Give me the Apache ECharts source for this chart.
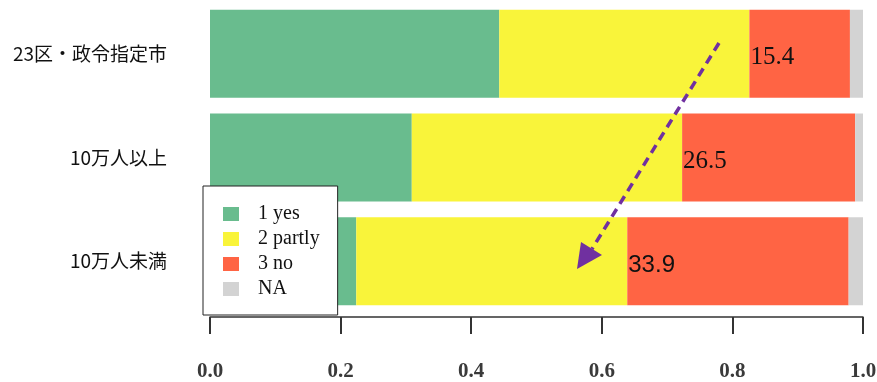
<!DOCTYPE html>
<html>
<head>
<meta charset="utf-8">
<script src="https://cdn.jsdelivr.net/npm/echarts@6/dist/echarts.min.js"></script>
<style>html,body{margin:0;padding:0;background:#fff;}#c{width:877px;height:382px;}</style>
</head>
<body>
<div id="c"></div>
<script>
var categories = ['23区・政令指定市', '10万人以上', '10万人未満'];
var seriesNames = ['1 yes', '2 partly', '3 no', 'NA'];
var yesVals = [0.443, 0.309, 0.224];
var partlyVals = [0.383, 0.414, 0.415];
var noVals = [0.154, 0.265, 0.339];
var naVals = [0.020, 0.012, 0.022];
var noLabels = ['15.4', '26.5', '33.9'];
var xTicks = [0.0, 0.2, 0.4, 0.6, 0.8, 1.0];

var colors = ['#69BC8E', '#F9F43A', '#FF6444', '#D3D3D3'];
var labelFonts = ['Liberation Serif', 'Liberation Serif', 'Liberation Sans'];

var chart = echarts.init(document.getElementById('c'), null, {renderer: 'canvas'});

function mk(name, vals, color, withLabel) {
  return {
    name: name,
    type: 'bar',
    stack: 'total',
    barWidth: 88,
    itemStyle: {color: color},
    emphasis: {disabled: true},
    label: withLabel ? {
      show: true,
      position: 'insideLeft',
      distance: 1,
      offset: [0, 4],
      fontSize: 25,
      color: '#111',
      formatter: function (p) { return noLabels[p.dataIndex]; }
    } : {show: false},
    data: vals.map(function (v, i) {
      return withLabel ? {value: v, label: {fontFamily: labelFonts[i], fontSize: i === 2 ? 24 : 25}} : v;
    })
  };
}

var option = {
  animation: false,
  backgroundColor: '#fff',
  color: colors,
  grid: {left: 210, right: 14, top: 2, bottom: 69, containLabel: false, outerBoundsMode: 'none'},
  legend: {
    data: seriesNames,
    orient: 'vertical',
    left: 203,
    top: 186,
    padding: [18, 18, 16, 20],
    itemWidth: 16,
    itemHeight: 14,
    itemGap: 5,
    icon: 'rect',
    backgroundColor: '#fff',
    borderColor: '#222',
    borderWidth: 1,
    textStyle: {
      fontFamily: 'Liberation Serif',
      fontSize: 20,
      color: '#111',
      padding: [0, 0, 0, 14]
    },
    z: 10
  },
  xAxis: {
    type: 'value',
    min: 0,
    max: 1,
    interval: 0.2,
    offset: 4,
    splitLine: {show: false},
    axisLine: {show: true, lineStyle: {color: '#333', width: 1.5}},
    axisTick: {show: true, length: 17, lineStyle: {color: '#333', width: 2}},
    axisLabel: {
      margin: 44,
      fontFamily: 'Liberation Serif',
      fontSize: 21,
      fontWeight: 'bold',
      color: '#3a3a3a',
      customValues: xTicks,
      formatter: function (v) { return v.toFixed(1); }
    }
  },
  yAxis: {
    type: 'category',
    data: categories,
    inverse: true,
    axisLine: {show: false},
    axisTick: {show: false},
    axisLabel: {
      margin: 43,
      fontFamily: 'Noto Sans CJK JP',
      fontSize: 19,
      color: '#111',
      padding: [8, 0, 0, 0]
    }
  },
  series: [
    mk(seriesNames[0], yesVals, colors[0], false),
    mk(seriesNames[1], partlyVals, colors[1], false),
    mk(seriesNames[2], noVals, colors[2], true),
    mk(seriesNames[3], naVals, colors[3], false)
  ],
  graphic: [
    {
      type: 'line',
      z: 20,
      shape: {x1: 719, y1: 43, x2: 592, y2: 249},
      style: {stroke: '#7030A0', lineWidth: 3.5, lineDash: [9, 6]}
    },
    {
      type: 'polygon',
      z: 20,
      shape: {points: [[577, 269], [581, 242], [602, 255]]},
      style: {fill: '#7030A0'}
    }
  ]
};
chart.setOption(option);
</script>
</body>
</html>
